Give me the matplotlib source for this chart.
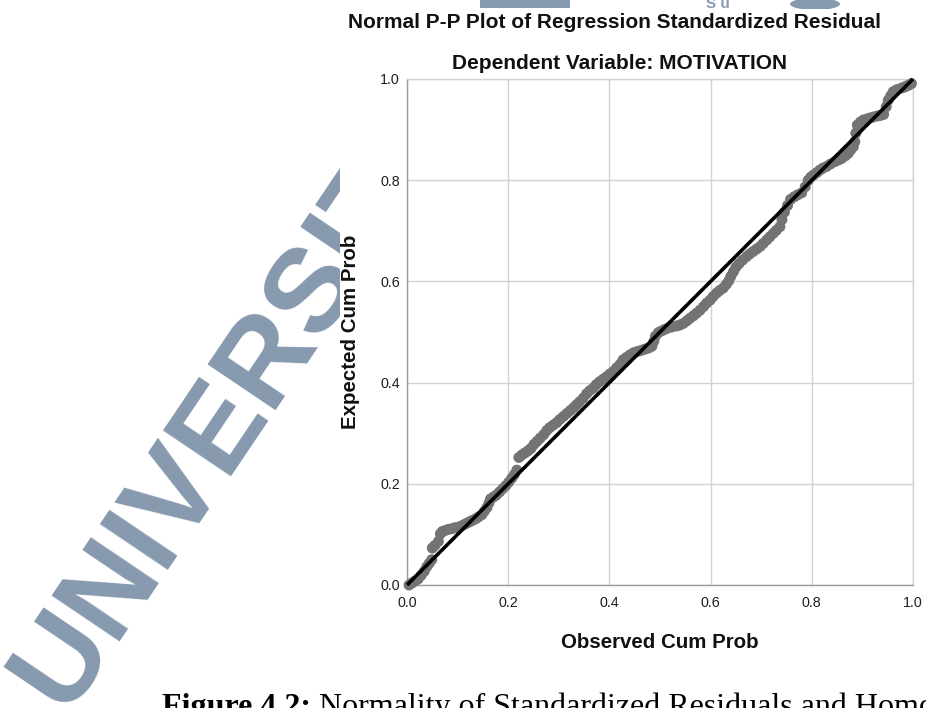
import matplotlib
matplotlib.use("Agg")
import matplotlib.pyplot as plt
from matplotlib.patches import Rectangle, Ellipse

# ---- data ----
observed_cum_prob = [
    0.004, 0.010, 0.016, 0.022, 0.028, 0.034, 0.039, 0.044, 0.049, 0.050,
    0.055, 0.062, 0.066, 0.070, 0.076, 0.082, 0.088, 0.094, 0.100, 0.106,
    0.112, 0.118, 0.124, 0.130, 0.136, 0.142, 0.148, 0.153, 0.158, 0.162,
    0.165, 0.171, 0.177, 0.183, 0.189, 0.195, 0.201, 0.207, 0.212, 0.217,
    0.221, 0.227, 0.233, 0.239, 0.245, 0.251, 0.257, 0.263, 0.270, 0.276,
    0.282, 0.289, 0.296, 0.302, 0.309, 0.316, 0.323, 0.329, 0.335, 0.341,
    0.348, 0.355, 0.361, 0.368, 0.374, 0.381, 0.388, 0.395, 0.401, 0.408,
    0.414, 0.421, 0.427, 0.434, 0.441, 0.448, 0.454, 0.461, 0.467, 0.473,
    0.479, 0.484, 0.488, 0.491, 0.497, 0.503, 0.509, 0.516, 0.524, 0.533,
    0.540, 0.546, 0.553, 0.559, 0.566, 0.572, 0.579, 0.586, 0.592, 0.599,
    0.605, 0.612, 0.618, 0.625, 0.631, 0.636, 0.640, 0.645, 0.650, 0.656,
    0.663, 0.671, 0.677, 0.684, 0.691, 0.698, 0.704, 0.711, 0.717, 0.724,
    0.730, 0.737, 0.741, 0.746, 0.752, 0.758, 0.765, 0.772, 0.780, 0.787,
    0.793, 0.798, 0.803, 0.810, 0.816, 0.822, 0.829, 0.837, 0.846, 0.853,
    0.859, 0.866, 0.872, 0.877, 0.882, 0.885, 0.887, 0.890, 0.896, 0.902,
    0.909, 0.915, 0.922, 0.930, 0.936, 0.942, 0.947, 0.951, 0.956, 0.961,
    0.968, 0.977, 0.983, 0.987, 0.992, 0.997,
]
expected_cum_prob = [
    0.000, 0.004, 0.008, 0.012, 0.019, 0.027, 0.036, 0.043, 0.050, 0.073,
    0.078, 0.086, 0.101, 0.106, 0.108, 0.110, 0.111, 0.113, 0.114, 0.116,
    0.119, 0.122, 0.125, 0.128, 0.131, 0.135, 0.139, 0.146, 0.153, 0.162,
    0.170, 0.174, 0.178, 0.184, 0.190, 0.196, 0.203, 0.211, 0.218, 0.227,
    0.252, 0.257, 0.261, 0.265, 0.270, 0.278, 0.284, 0.290, 0.297, 0.305,
    0.311, 0.316, 0.321, 0.327, 0.333, 0.339, 0.345, 0.350, 0.356, 0.362,
    0.369, 0.378, 0.384, 0.389, 0.396, 0.402, 0.407, 0.412, 0.417, 0.422,
    0.429, 0.436, 0.445, 0.450, 0.455, 0.459, 0.461, 0.463, 0.465, 0.467,
    0.469, 0.472, 0.482, 0.492, 0.499, 0.502, 0.505, 0.508, 0.510, 0.512,
    0.514, 0.517, 0.522, 0.527, 0.532, 0.537, 0.543, 0.550, 0.557, 0.563,
    0.570, 0.577, 0.582, 0.587, 0.594, 0.601, 0.610, 0.619, 0.628, 0.635,
    0.642, 0.649, 0.654, 0.659, 0.664, 0.669, 0.675, 0.682, 0.688, 0.695,
    0.701, 0.708, 0.722, 0.737, 0.750, 0.762, 0.767, 0.771, 0.775, 0.787,
    0.800, 0.806, 0.810, 0.815, 0.820, 0.824, 0.827, 0.832, 0.837, 0.840,
    0.843, 0.848, 0.853, 0.860, 0.866, 0.876, 0.893, 0.909, 0.915, 0.919,
    0.921, 0.923, 0.925, 0.927, 0.928, 0.930, 0.945, 0.958, 0.967, 0.975,
    0.979, 0.982, 0.984, 0.986, 0.988, 0.991,
]
reference_line = [0.0, 1.0]
tick_values = [0.0, 0.2, 0.4, 0.6, 0.8, 1.0]
tick_labels = ["0.0", "0.2", "0.4", "0.6", "0.8", "1.0"]

title_text = "Normal P-P Plot of Regression Standardized Residual"
subtitle_text = "Dependent Variable: MOTIVATION"
x_label = "Observed Cum Prob"
y_label = "Expected Cum Prob"
caption_bold = "Figure 4.2:"
caption_rest = " Normality of Standardized Residuals and Homoscedasticity"
watermark = "UNIVERSITY"
watermark_top = "S u"

# ---- figure ----
W, H = 926, 708
fig = plt.figure(figsize=(W / 100, H / 100), dpi=100)
fig.patch.set_facecolor("white")

def fx(px):
    return px / W

def fy(py):
    return (H - py) / H

SANS = ["Liberation Sans", "DejaVu Sans"]
SERIF = ["Liberation Serif", "DejaVu Serif"]
WM_COLOR = "#8699ae"

# watermark behind the chart picture
fig.text(fx(240), fy(398), watermark, rotation=56, rotation_mode="anchor",
         ha="center", va="center", fontsize=86, fontweight="bold",
         family=SANS, color=WM_COLOR, zorder=-3)
# fragments of the watermark peeking out above the chart picture
fig.text(fx(706), fy(7.5), watermark_top, ha="left", va="baseline",
         fontsize=11, fontweight="bold", family=SANS, color=WM_COLOR, zorder=-3)
fig.patches.append(Rectangle((fx(480), fy(8)), fx(570) - fx(480), fy(0) - fy(8),
                             transform=fig.transFigure, facecolor=WM_COLOR,
                             edgecolor="none", zorder=-3))
fig.patches.append(Ellipse((fx(815), fy(4)), fx(50), 12 / H,
                           transform=fig.transFigure, facecolor=WM_COLOR,
                           edgecolor="none", zorder=-3))
# white background of the pasted chart picture
fig.patches.append(Rectangle((fx(340), fy(690)), 1 - fx(340), fy(9) - fy(690),
                             transform=fig.transFigure, facecolor="white",
                             edgecolor="none", zorder=-2))

ax = fig.add_axes([fx(407), fy(585), (913 - 407) / W, (585 - 79) / H])
ax.set_xlim(0, 1)
ax.set_ylim(0, 1)
ax.set_facecolor("white")

ax.set_xticks(tick_values)
ax.set_xticklabels(tick_labels)
ax.set_yticks(tick_values)
ax.set_yticklabels(tick_labels)
ax.tick_params(length=0, labelsize=10.3, labelcolor="#1e1e1e")
ax.tick_params(axis="x", pad=8)
ax.tick_params(axis="y", pad=5)
for lab in ax.get_xticklabels() + ax.get_yticklabels():
    lab.set_family(SANS)

ax.grid(True, color="#d2d2d2", linewidth=1.0, zorder=0)
ax.set_axisbelow(True)
for side in ["left", "bottom"]:
    ax.spines[side].set_color("#9a9a9a")
    ax.spines[side].set_linewidth(1.0)
for side in ["top", "right"]:
    ax.spines[side].set_color("#d2d2d2")
    ax.spines[side].set_linewidth(1.0)

ax.scatter(observed_cum_prob, expected_cum_prob, s=62, color="#737373",
           edgecolors="none", zorder=3, clip_on=False)
ax.plot(reference_line, reference_line, color="black", linewidth=2.6,
        zorder=4, clip_on=False, solid_capstyle="butt")

# titles and labels
fig.text(fx(615), fy(27.5), title_text, ha="center", va="baseline",
         fontsize=15, fontweight="bold", family=SANS, color="#111111")
fig.text(fx(620), fy(69), subtitle_text, ha="center", va="baseline",
         fontsize=15, fontweight="bold", family=SANS, color="#111111")
fig.text(fx(660), fy(648), x_label, ha="center", va="baseline",
         fontsize=14.8, fontweight="bold", family=SANS, color="#111111")
fig.text(fx(350), fy(332), y_label, ha="center", va="center", rotation=90,
         fontsize=14.8, fontweight="bold", family=SANS, color="#111111")

# caption (cut off by the bottom / right edge as in the reference)
t1 = fig.text(fx(162), fy(715), caption_bold, ha="left", va="baseline",
              fontsize=23.0, fontweight="bold", family=SERIF, color="black")
fig.canvas.draw()
bb = t1.get_window_extent(renderer=fig.canvas.get_renderer())
fig.text(bb.x1 / W, fy(715), caption_rest, ha="left", va="baseline",
         fontsize=23.0, family=SERIF, color="black")

fig.savefig("out.png", dpi=100, facecolor="white")
